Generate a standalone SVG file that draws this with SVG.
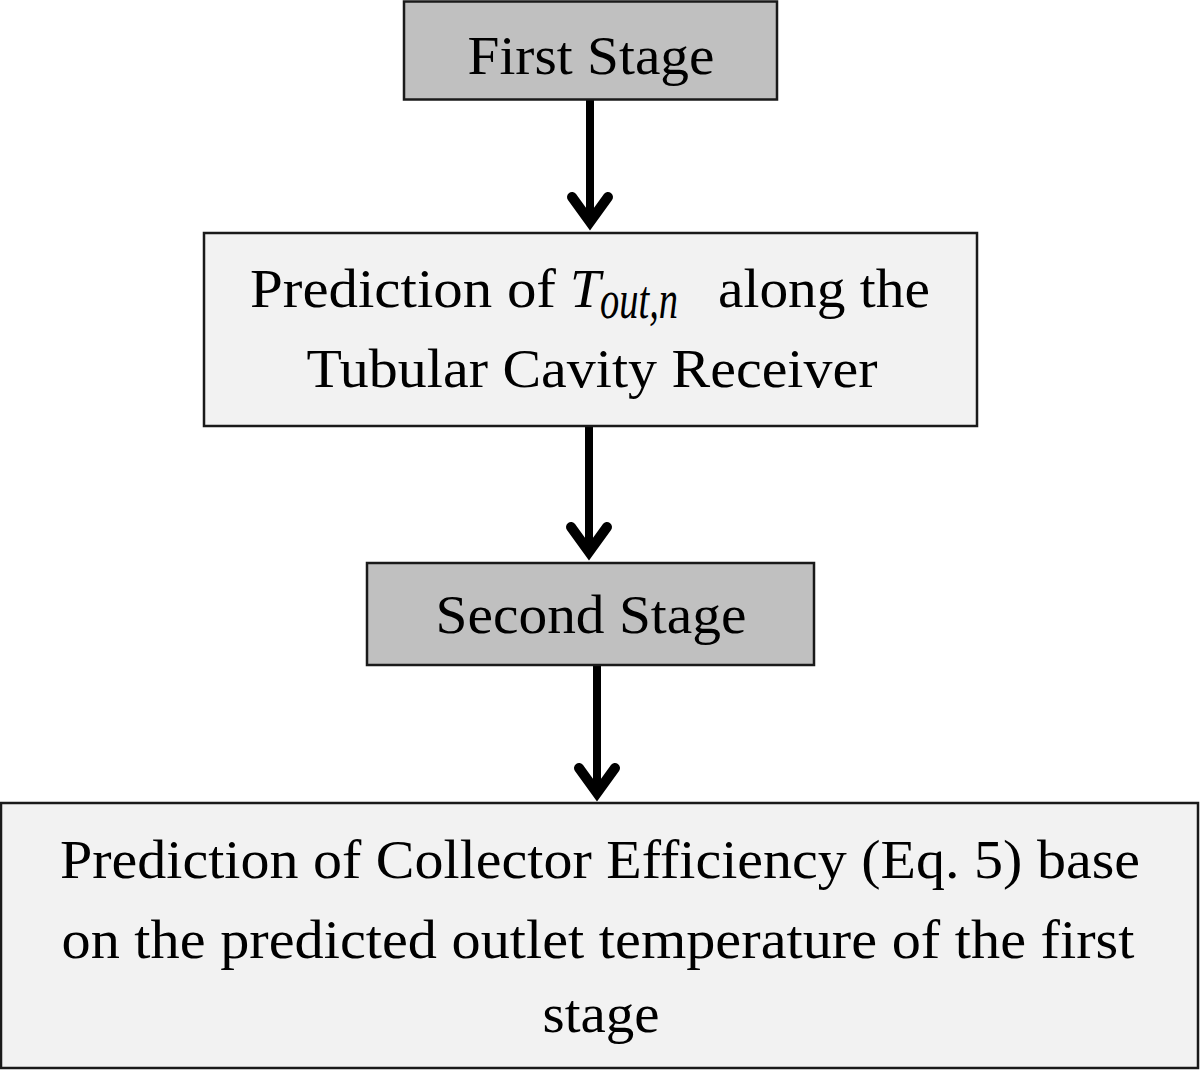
<svg xmlns="http://www.w3.org/2000/svg" width="1200" height="1070" viewBox="0 0 1200 1070">
<style>
.dark{fill:#c0c0c0;stroke:#1a1a1a;stroke-width:2.5}
.light{fill:#f2f2f2;stroke:#1a1a1a;stroke-width:2.5}
text{font-family:"Liberation Serif","Times New Roman",serif;font-size:55px;fill:#000;text-anchor:middle}
.shaft{stroke:#000;stroke-width:8;fill:none}
.head{stroke:#000;stroke-width:10;fill:none;stroke-linecap:round;stroke-linejoin:miter;stroke-miterlimit:10}
</style>
<rect width="1200" height="1070" fill="#fff"/>
<g id="connectors">
<line class="shaft" x1="590" y1="100" x2="590" y2="222"/>
<polyline class="head" points="572,197 590,222 608,197"/>
<line class="shaft" x1="589" y1="427" x2="589" y2="552"/>
<polyline class="head" points="571,527 589,552 607,527"/>
<line class="shaft" x1="597" y1="666" x2="597" y2="793"/>
<polyline class="head" points="579,768 597,793 615,768"/>
</g>
<g id="first-stage">
<rect class="dark" x="404" y="1.5" width="373" height="98"/>
<text x="591" y="74" textLength="247" lengthAdjust="spacingAndGlyphs">First Stage</text>
</g>
<g id="prediction-tout">
<rect class="light" x="204" y="233" width="773" height="193"/>
<text x="403" y="307" textLength="306" lengthAdjust="spacingAndGlyphs">Prediction of</text>
<text x="570" y="307" font-style="italic" style="text-anchor:start">T</text>
<text x="600" y="318" font-style="italic" font-size="36" style="text-anchor:start" textLength="78" lengthAdjust="spacingAndGlyphs">out,n</text>
<text x="824" y="307" textLength="212" lengthAdjust="spacingAndGlyphs">along the</text>
<text x="592" y="387" textLength="571" lengthAdjust="spacingAndGlyphs">Tubular Cavity Receiver</text>
</g>
<g id="second-stage">
<rect class="dark" x="367" y="563" width="447" height="102"/>
<text x="591" y="633" textLength="311" lengthAdjust="spacingAndGlyphs">Second Stage</text>
</g>
<g id="collector-efficiency">
<rect class="light" x="1" y="803" width="1197" height="265"/>
<text x="600" y="878" textLength="1080" lengthAdjust="spacingAndGlyphs">Prediction of Collector Efficiency (Eq. 5) base</text>
<text x="598" y="958" textLength="1073" lengthAdjust="spacingAndGlyphs">on the predicted outlet temperature of the first</text>
<text x="601" y="1032" textLength="117" lengthAdjust="spacingAndGlyphs">stage</text>
</g>
</svg>
